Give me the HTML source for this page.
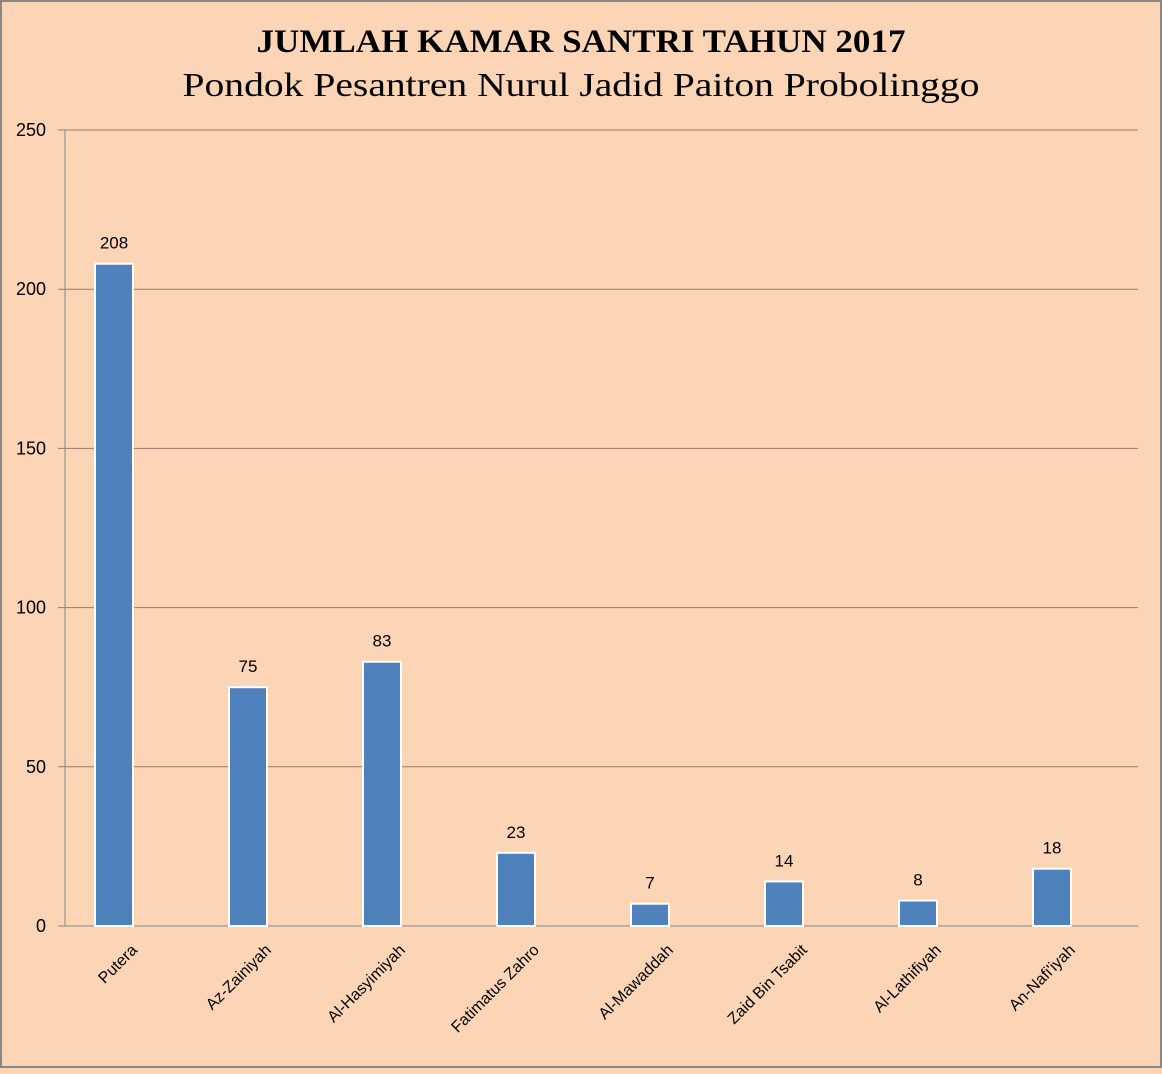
<!DOCTYPE html>
<html><head><meta charset="utf-8"><style>
html,body{margin:0;padding:0;}
body{width:1162px;height:1069px;background:#FBD5B5;overflow:hidden;}
svg text{font-family:"Liberation Sans",sans-serif;}
</style></head><body>
<svg width="1162" height="1069" xmlns="http://www.w3.org/2000/svg">
<rect x="1" y="1" width="1160" height="1066" fill="#FBD5B5" stroke="#888" stroke-width="2"/>
<text x="581" y="52" text-anchor="middle" font-size="33" font-weight="bold" textLength="649" lengthAdjust="spacingAndGlyphs" style="font-family:'Liberation Serif',serif">JUMLAH KAMAR SANTRI TAHUN 2017</text>
<text x="581" y="96" text-anchor="middle" font-size="34" textLength="797" lengthAdjust="spacingAndGlyphs" style="font-family:'Liberation Serif',serif">Pondok Pesantren Nurul Jadid Paiton Probolinggo</text>
<g id="grid"></g><g id="bars"></g>
</svg>
<script>
const categories=["Putera","Az-Zainiyah","Al-Hasyimiyah","Fatimatus Zahro","Al-Mawaddah","Zaid Bin Tsabit","Al-Lathifiyah","An-Nafi'iyah"];
const values=[208,75,83,23,7,14,8,18];
const ticks=[0,50,100,150,200,250];
const NS="http://www.w3.org/2000/svg";
const x0=65,x1=1138,y0=926,yTop=130,maxV=250;
const y=v=>y0-(v/maxV)*(y0-yTop);
const step=134;
const xc=i=>x0+49+step*i;
const g=document.getElementById('grid'),b=document.getElementById('bars');
function el(t,a,p){const e=document.createElementNS(NS,t);for(const k in a)e.setAttribute(k,a[k]);p.appendChild(e);return e;}
ticks.forEach(t=>{
 const l=el('line',{x1:58,x2:x1,y1:y(t),y2:y(t),stroke:t===0?'#868686':'#9a7b6a','stroke-width':1},g);
 
 
 const tx=el('text',{x:46,y:y(t)+6,'text-anchor':'end','font-size':18},g);
 tx.textContent=t;
 
 
});
const ax=el('line',{x1:x0,x2:x0,y1:yTop,y2:y0,stroke:'#868686'},g);


categories.forEach((c,i)=>{
 const cx=xc(i);
 const r=el('rect',{x:cx-19,y:y(values[i]),width:38,height:y0-y(values[i]),fill:'#4F81BD',stroke:'#fff','stroke-width':2},b);
 
 
 const vl=el('text',{x:cx,y:y(values[i])-15,'text-anchor':'middle','font-size':17},b);
 vl.textContent=values[i];
 
 
 const cl=el('text',{x:0,y:0,'text-anchor':'end','font-size':16,transform:`translate(${cx+24},${y0+25}) rotate(-45)`},b);
 cl.textContent=c;
 
 
});
</script>
</body></html>
